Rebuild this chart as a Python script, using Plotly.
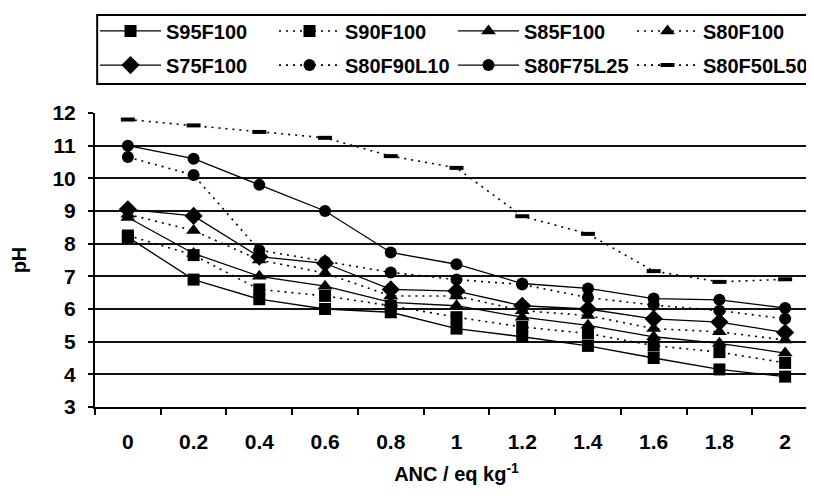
import plotly.graph_objects as go

anc = ["0", "0.2", "0.4", "0.6", "0.8", "1", "1.2", "1.4", "1.6", "1.8", "2"]

S95F100 = [8.2, 6.9, 6.3, 6.0, 5.9, 5.4, 5.15, 4.87, 4.5, 4.15, 3.93]
S90F100 = [8.25, 7.65, 6.6, 6.4, 6.1, 5.75, 5.45, 5.25, 4.88, 4.68, 4.35]
S85F100 = [8.8, 7.7, 7.0, 6.7, 6.2, 6.1, 5.75, 5.5, 5.15, 4.95, 4.65]
S80F100 = [8.9, 8.4, 7.5, 7.1, 6.4, 6.4, 5.95, 5.8, 5.4, 5.3, 5.05]
S75F100 = [9.05, 8.85, 7.6, 7.4, 6.6, 6.55, 6.1, 6.0, 5.7, 5.6, 5.28]
S80F90L10 = [10.65, 10.1, 7.8, 7.45, 7.12, 6.9, 6.75, 6.35, 6.12, 5.95, 5.7]
S80F75L25 = [11.0, 10.6, 9.8, 9.0, 7.73, 7.37, 6.78, 6.63, 6.32, 6.28, 6.03]
S80F50L50 = [11.8, 11.62, 11.42, 11.24, 10.68, 10.32, 8.84, 8.3, 7.16, 6.83, 6.91]

series = [
    ("S95F100", S95F100, "solid", "square", 12, "legend"),
    ("S90F100", S90F100, "dot", "square", 12, "legend"),
    ("S85F100", S85F100, "solid", "triangle-up", 13, "legend"),
    ("S80F100", S80F100, "dot", "triangle-up", 13, "legend"),
    ("S75F100", S75F100, "solid", "diamond", 14, "legend2"),
    ("S80F90L10", S80F90L10, "dot", "circle", 12, "legend2"),
    ("S80F75L25", S80F75L25, "solid", "circle", 12, "legend2"),
    ("S80F50L50", S80F50L50, "dot", "line-ew", 10, "legend2"),
]

FONT = "Liberation Sans, Arial, sans-serif"

fig = go.Figure()
for name, vals, dash, sym, size, lg in series:
    is_dot = dash == "dot"
    marker = dict(symbol=sym, size=size, color="black")
    if sym == "line-ew":
        marker["line"] = dict(width=4, color="black")
    fig.add_trace(go.Scatter(
        x=anc, y=vals, name=name, mode="lines+markers",
        line=dict(color="black", width=1.6 if is_dot else 1.3,
                  dash="2px,5px" if is_dot else "solid"),
        marker=marker, legend=lg,
    ))

legend_common = dict(
    orientation="h", xanchor="left", yanchor="middle",
    font=dict(family=FONT, size=20, color="black", weight="bold"),
    borderwidth=0, bgcolor="rgba(0,0,0,0)",
    itemwidth=61, entrywidth=103, entrywidthmode="pixels",
    itemclick=False,
)

fig.update_layout(
    width=814, height=504,
    margin=dict(l=87, r=4, t=105, b=105, autoexpand=False),
    paper_bgcolor="white", plot_bgcolor="white",
    showlegend=True,
    legend=dict(x=0.0, y=1.279, **legend_common),
    legend2=dict(x=0.0, y=1.163, **legend_common),
    shapes=[dict(type="rect", xref="paper", yref="paper",
                 x0=0.003, x1=1.0, y0=1.099, y1=1.333,
                 line=dict(color="black", width=2), fillcolor="rgba(0,0,0,0)")],
    xaxis=dict(
        type="category", range=[-0.5, 10.5],
        showgrid=False, showline=True, linecolor="black", linewidth=2,
        ticks="outside", ticklen=6, tickwidth=2, tickcolor="black",
        tickson="boundaries", ticklabelstandoff=15,
        tickfont=dict(family=FONT, size=21, color="black", weight="bold"),
        title=dict(text="ANC / eq kg<sup>-1</sup>", standoff=15,
                   font=dict(family=FONT, size=20, color="black", weight="bold")),
        zeroline=False,
    ),
    yaxis=dict(
        range=[3, 12], dtick=1, tick0=3,
        showgrid=True, gridcolor="#111", gridwidth=1.5,
        showline=True, linecolor="black", linewidth=2,
        ticks="outside", ticklen=5, tickwidth=2, tickcolor="black",
        ticklabelstandoff=8,
        tickfont=dict(family=FONT, size=21, color="black", weight="bold"),
        title=dict(text="pH", standoff=22,
                   font=dict(family=FONT, size=20, color="black", weight="bold")),
        zeroline=False,
    ),
)

fig.write_html("out.html")
